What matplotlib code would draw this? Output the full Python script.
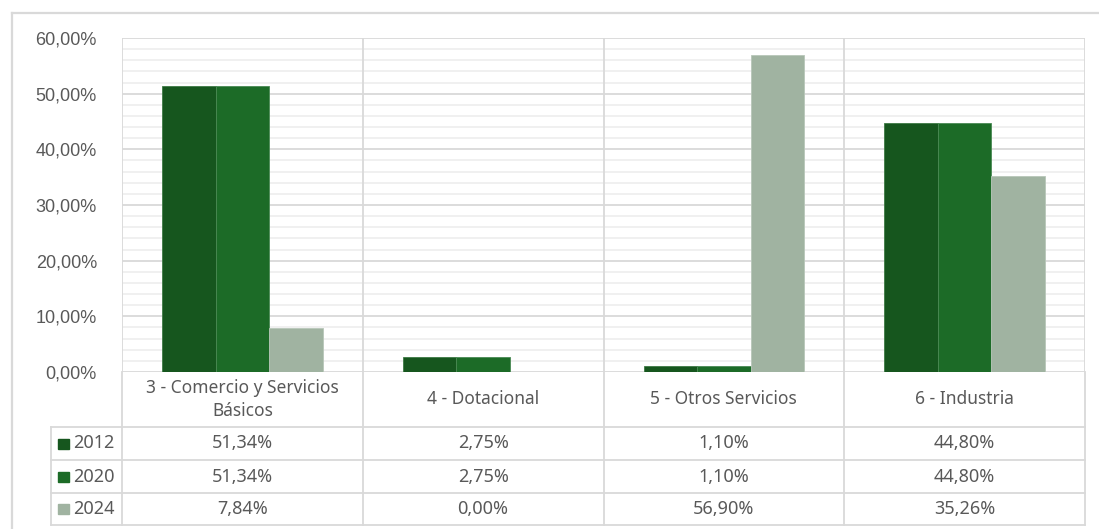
import matplotlib
matplotlib.use("Agg")
import matplotlib.pyplot as plt
from matplotlib.patches import Rectangle

# ---- data ----
categories = ["3 - Comercio y Servicios\nBásicos", "4 - Dotacional",
              "5 - Otros Servicios", "6 - Industria"]
years = ["2012", "2020", "2024"]
values_2012 = [51.34, 2.75, 1.10, 44.80]
values_2020 = [51.34, 2.75, 1.10, 44.80]
values_2024 = [7.84, 0.00, 56.90, 35.26]
series = [values_2012, values_2020, values_2024]
colors = ["#16561e", "#1c6b27", "#a0b3a1"]
edge_colors = ["#3d7a44", "#4a8a54", "#b8c7b9"]
y_ticks = [0, 10, 20, 30, 40, 50, 60]

TEXT = "#595959"
GRID = "#d9d9d9"
MINOR = "#efefef"
W, H = 1099, 529

plt.rcParams["font.family"] = ["Noto Sans", "DejaVu Sans"]

fig = plt.figure(figsize=(W / 100, H / 100), dpi=100)

# pixel-based helpers
def fx(px):
    return px / W

def fy(py):
    return 1 - py / H

ax_left, ax_right, ax_top, ax_bot = 122, 1085, 38, 372
ax = fig.add_axes([fx(ax_left), fy(ax_bot), fx(ax_right - ax_left), fy(ax_top) - fy(ax_bot)])

n = len(categories)
bar_w = 2 / 9
for i, (vals, c, ec) in enumerate(zip(series, colors, edge_colors)):
    xs = [k + (i - 1) * bar_w for k in range(n)]
    ax.bar(xs, vals, width=bar_w, color=c, edgecolor=ec, linewidth=0.6, zorder=3)

ax.set_xlim(-0.5, n - 0.5)
ax.set_ylim(0, 60)

# gridlines: minor every 2 %, major every 10 %
for v in range(0, 61, 2):
    if v % 10:
        ax.axhline(v, color=MINOR, lw=1.3, zorder=1)
for v in y_ticks:
    ax.axhline(v, color=GRID, lw=1.3, zorder=2)
for k in range(n + 1):
    ax.axvline(k - 0.5, color=GRID, lw=1.3, zorder=2)

ax.set_yticks(y_ticks)
ax.set_yticklabels([f"{v:.2f}%".replace(".", ",") for v in y_ticks],
                   family=["Liberation Sans"], fontsize=13, color=TEXT)
ax.set_xticks([])
ax.tick_params(axis="y", length=0, pad=18)
for s in ax.spines.values():
    s.set_visible(False)

# overlay in pixel coordinates for the data table and the outer frame
ov2 = fig.add_axes([0, 0, 1, 1], zorder=5)
ov2.set_xlim(0, W)
ov2.set_ylim(H, 0)
ov2.axis("off")

# outer chart frame
ov2.plot([12, W], [13, 13], color=GRID, lw=1.6)
ov2.plot([12, 12], [13, H], color=GRID, lw=1.6)

# data table
col_edges = [ax_left + (ax_right - ax_left) * k / n for k in range(n + 1)]
row_edges = [ax_bot, 427, 460, 493, 525]
legend_left = 51

for x in col_edges:
    ov2.plot([x, x], [ax_bot, row_edges[-1]], color=GRID, lw=1.3)
ov2.plot([legend_left, legend_left], [row_edges[1], row_edges[-1]], color=GRID, lw=1.3)
for y in row_edges[1:]:
    ov2.plot([legend_left, ax_right], [y, y], color=GRID, lw=1.3)

# category headers
for k, cat in enumerate(categories):
    cx = (col_edges[k] + col_edges[k + 1]) / 2
    cy = (row_edges[0] + row_edges[1]) / 2
    ov2.text(cx, cy, cat, ha="center", va="center", fontsize=12.5,
             color=TEXT, linespacing=1.4)

# rows: legend key + values
for r, (yr, vals, c) in enumerate(zip(years, series, colors)):
    y0, y1 = row_edges[r + 1], row_edges[r + 2]
    cy = (y0 + y1) / 2
    ov2.add_patch(Rectangle((58, cy - 5), 11, 10, color=c))
    ov2.text(73, cy, yr, ha="left", va="center", fontsize=13, color=TEXT)
    for k, v in enumerate(vals):
        cx = (col_edges[k] + col_edges[k + 1]) / 2
        ov2.text(cx, cy, f"{v:.2f}%".replace(".", ","), ha="center",
                 va="center", fontsize=13, color=TEXT)

fig.savefig("out.png", dpi=100, facecolor="white")
